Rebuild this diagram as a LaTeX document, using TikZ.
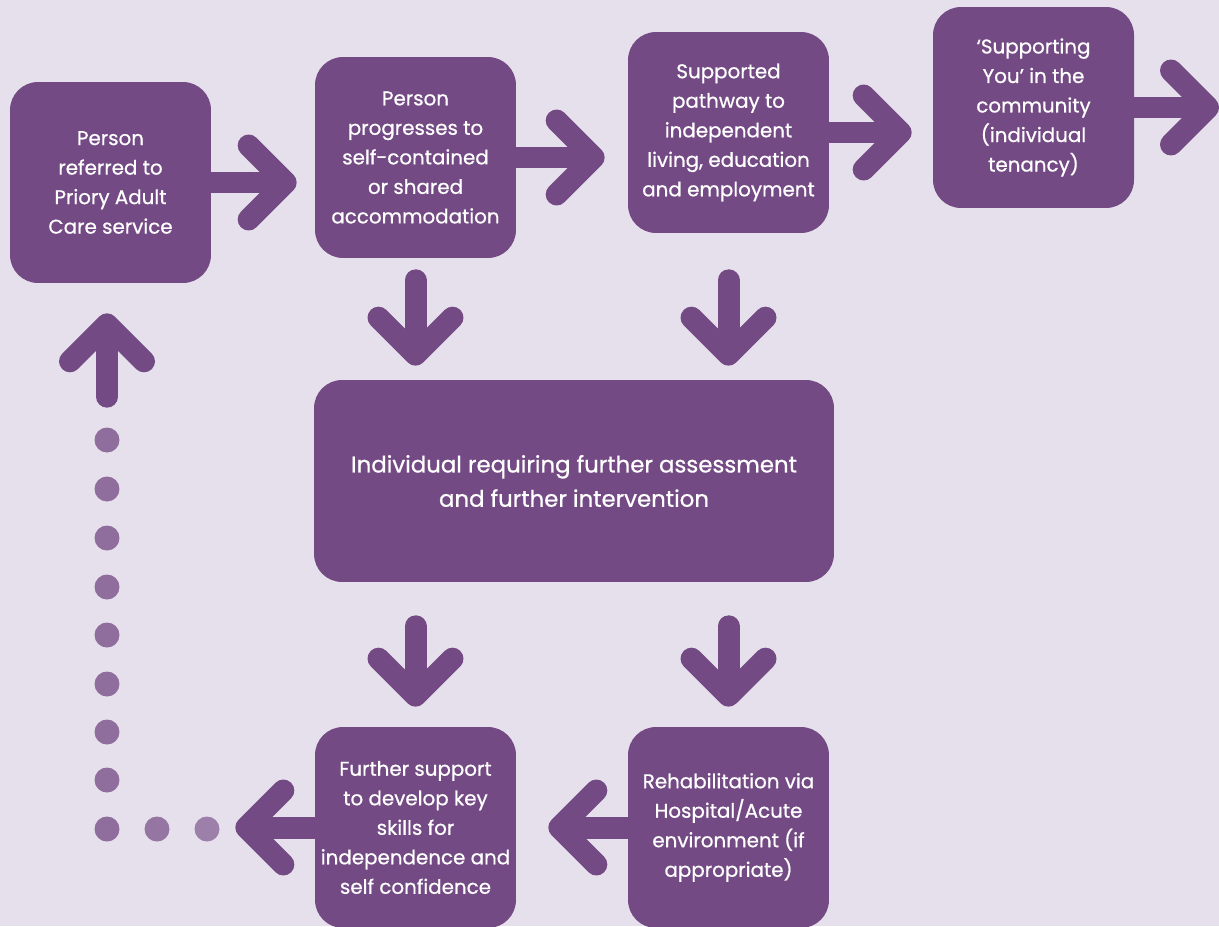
\documentclass[tikz,border=0pt]{standalone}
\usepackage{fontspec}
\setmainfont{Poppins}[UprightFeatures={FakeBold=0.7}]
\usetikzlibrary{arrows.meta,positioning}
\definecolor{plum}{HTML}{734A84}
\definecolor{lilac}{HTML}{E6E0EC}

\begin{document}
\begin{tikzpicture}[
    x=0.02cm, y=-0.02cm,
    stage/.style={fill=plum, rounded corners=0.56cm, minimum width=4.02cm, minimum height=4.02cm, inner sep=0pt, align=center, text=white, font=\fontsize{11.3}{16.8}\selectfont},
    arr/.style={plum, line width=0.44cm, line cap=round, -{Straight Barb[length=0.74cm, width=1.48cm, round]}},
    dot/.style={circle, fill=plum!80, minimum size=0.5cm, inner sep=0pt}
]
\useasboundingbox (0,0) rectangle (1219,926);
\fill[lilac] (0,0) rectangle (1219,926);

\node[stage] (refer) at (110.5,182.5) {Person\\referred to\\Priory Adult\\Care service};
\node[stage] (progress) at (415.5,157.5) {Person\\progresses to\\self-contained\\or shared\\accommodation};
\node[stage] (pathway) at (728.5,132.5) {Supported\\pathway to\\independent\\living, education\\and employment};
\node[stage] (community) at (1033.5,107.5) {‘Supporting\\You’ in the\\community\\(individual\\tenancy)};
\node[stage, minimum width=10.4cm, minimum height=4.04cm, font=\fontsize{13}{19.5}\selectfont] (assess) at (574,481) {Individual requiring further assessment\\and further intervention};
\node[stage] (further) at (415.5,827.5) {Further support\\to develop key\\skills for\\independence and\\self confidence};
\node[stage] (rehab) at (728.5,827.5) {Rehabilitation via\\Hospital/Acute\\environment (if\\appropriate)};

% dotted way back to the start
\node[dot, fill=plum!70] (h1) at (207,829) {};
\node[dot, fill=plum!76] (h2) at (157,829) {};
\node[dot] (h3) at (107,829) {};
\foreach \y [count=\i] in {780,732,684,635,587,538,489,440}
    \node[dot] (v\i) at (107,\y) {};
\coordinate (exit) at (1219,107.5);

\draw[arr, shorten >=0.36cm] (refer.east) -- (refer.east -| progress.west);
\draw[arr, shorten >=0.46cm] (progress.east) -- (progress.east -| pathway.west);
\draw[arr, shorten >=0.42cm] (pathway.east) -- (pathway.east -| community.west);
\draw[arr] (community.east) -- (exit);
\draw[arr, shorten <=0.44cm, shorten >=0.28cm] (progress.south) -- (progress.south |- assess.north);
\draw[arr, shorten <=0.94cm, shorten >=0.28cm] (pathway.south) -- (pathway.south |- assess.north);
\draw[arr, shorten <=0.88cm, shorten >=0.4cm] (further.north |- assess.south) -- (further.north);
\draw[arr, shorten <=0.88cm, shorten >=0.4cm] (rehab.north |- assess.south) -- (rehab.north);
\draw[arr, shorten >=0.64cm] (rehab.west) -- (rehab.west -| further.east);
\draw[arr, shorten >=0.31cm] (further.west) -- (further.west -| h1.east);
\draw[arr, shorten <=0.61cm, shorten >=0.6cm] (v8.north) -- (v8.north |- refer.south);
\end{tikzpicture}
\end{document}
